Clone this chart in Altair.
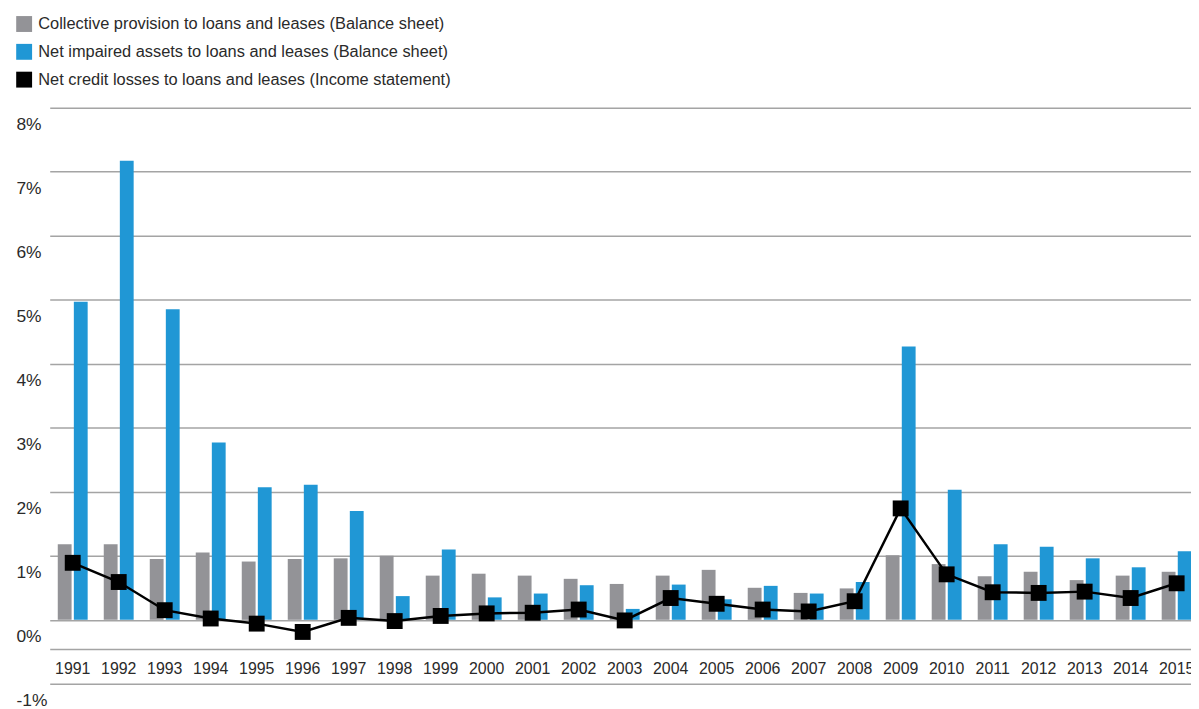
import altair as alt
import pandas as pd

years = [str(y) for y in range(1991, 2016)]
collective = [1.18, 1.18, 0.95, 1.05, 0.91, 0.95, 0.96, 1.00, 0.69, 0.72, 0.69, 0.64, 0.56,
              0.69, 0.78, 0.50, 0.42, 0.49, 1.01, 0.87, 0.68, 0.75, 0.62, 0.69, 0.75]
impaired = [4.97, 7.17, 4.85, 2.77, 2.07, 2.11, 1.70, 0.37, 1.10, 0.35, 0.41, 0.54, 0.17,
            0.55, 0.32, 0.53, 0.41, 0.59, 4.27, 2.03, 1.18, 1.14, 0.96, 0.82, 1.07]
losses = [0.89, 0.59, 0.15, 0.02, -0.06, -0.19, 0.03, -0.02, 0.06, 0.10, 0.11, 0.16, -0.01,
          0.34, 0.25, 0.16, 0.13, 0.29, 1.74, 0.71, 0.43, 0.42, 0.44, 0.34, 0.57]

series_names = [
    "Collective provision to loans and leases (Balance sheet)",
    "Net impaired assets to loans and leases (Balance sheet)",
    "Net credit losses to loans and leases (Income statement)",
]
series_colors = ["#939397", "#2097d5", "#000000"]
y_ticks = list(range(-1, 9))

bars_df = pd.DataFrame(
    [{"year": y, "series": series_names[0], "value": v} for y, v in zip(years, collective)]
    + [{"year": y, "series": series_names[1], "value": v} for y, v in zip(years, impaired)]
)
line_df = pd.DataFrame({"year": years, "value": losses})

FONT = "Liberation Sans"
GRID = "#a4a4a4"
TXT = "#2a2a2a"

x_scale = alt.Scale(domain=years, range=[38, 1195.7], paddingInner=0.35, paddingOuter=0.175)
y_scale = alt.Scale(domain=[-1, 8], nice=False, zero=False)

x_axis = alt.Axis(
    title=None, orient="bottom", offset=-35, labelAngle=0, ticks=False, grid=False,
    domainColor=GRID, domainWidth=1.5, labelPadding=12, labelFontSize=16,
    labelFont=FONT, labelColor=TXT,
)
y_axis = alt.Axis(
    title=None, values=y_ticks, labelExpr="datum.value + '%'", domain=False,
    domainColor="transparent", ticks=False,
    tickSize=0, grid=True, gridColor=GRID, gridWidth=1.5, labelAlign="left",
    labelPadding=-4, labelBaseline="middle", labelOffset=16.5, labelFontSize=17.5,
    labelFont=FONT, labelColor=TXT,
)

bars = alt.Chart(bars_df).mark_bar().encode(
    x=alt.X("year:N", scale=x_scale, axis=x_axis, sort=years),
    xOffset=alt.XOffset("series:N", sort=series_names[:2],
                        scale=alt.Scale(paddingInner=0.14, paddingOuter=0)),
    y=alt.Y("value:Q", scale=y_scale, axis=y_axis, stack=None),
    color=alt.Color(
        "series:N",
        scale=alt.Scale(domain=series_names, range=series_colors),
        legend=alt.Legend(
            title=None, orient="none", legendX=4, legendY=-92.5, direction="vertical",
            symbolType="square", symbolSize=256, symbolStrokeWidth=0, symbolOpacity=1,
            labelFontSize=16.5, labelFont=FONT, labelColor=TXT, labelOffset=6,
            rowPadding=11, labelLimit=0, padding=0,
        ),
    ),
)

line = alt.Chart(line_df).mark_line(color="black", strokeWidth=2.5).encode(
    x=alt.X("year:N", scale=x_scale, axis=x_axis, sort=years),
    y=alt.Y("value:Q", scale=y_scale, axis=y_axis),
)
points = alt.Chart(line_df).mark_point(
    shape="square", size=256, filled=True, color="black", opacity=1
).encode(
    x=alt.X("year:N", scale=x_scale, axis=x_axis, sort=years),
    y=alt.Y("value:Q", scale=y_scale, axis=y_axis),
)

chart = (
    alt.layer(bars, line, points)
    .properties(
        width=1187, height=580,
        autosize=alt.AutoSizeParams(type="none"),
        padding={"left": 4, "top": 98, "right": 0, "bottom": 23},
        view=alt.ViewBackground(stroke="transparent", strokeWidth=0),
    )
    .configure_view(strokeWidth=0, stroke="transparent", strokeOpacity=0)
    .configure_axisY(domain=False, domainOpacity=0)
    .configure(background="white")
)

chart.save("out.html", embed_options={"renderer": "svg", "actions": False})
